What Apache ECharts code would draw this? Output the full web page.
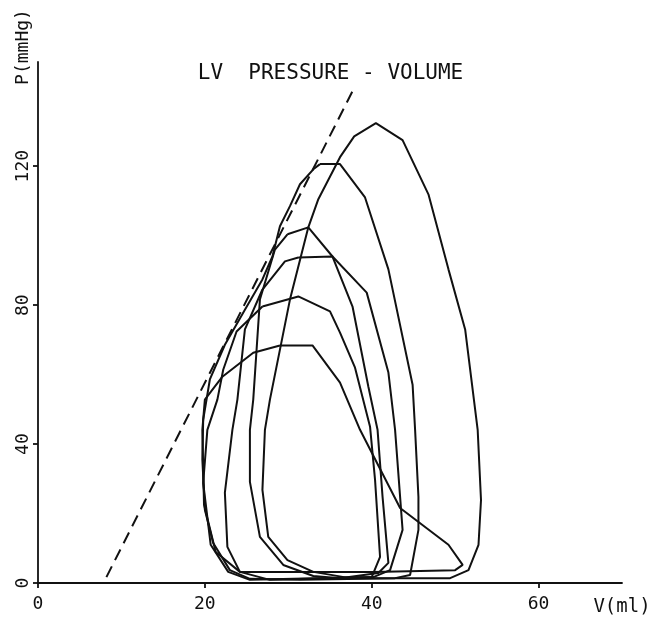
<!DOCTYPE html>
<html><head><meta charset="utf-8">
<script src="https://cdn.jsdelivr.net/npm/echarts@6/dist/echarts.min.js"></script>
<style>html,body{margin:0;padding:0;background:#fff}#c{width:661px;height:624px}</style>
</head><body><div id="c"></div>
<script>
// Tick values
const volumeTicks = [0, 20, 40, 60];
const pressureTicks = [0, 40, 80, 120];

// End-systolic pressure-volume relation (dashed line), [V (ml), P (mmHg)]
const espvrLine = [[8.2, 1.7], [37.7, 141.6]];

// Pressure-volume loops, [V (ml), P (mmHg)]
const loopA = [[33.0,3.2],[29.9,6.6],[27.6,13.3],[26.9,26.8],[27.2,44.1],[27.8,52.8],[30.2,81.6],[32.4,102.4],[33.6,110.5],[36.2,122.6],[37.9,128.6],[40.5,132.4],[43.7,127.5],[46.8,111.9],[49.2,90.3],[51.2,73.0],[52.7,44.1],[53.1,23.9],[52.8,11.0],[51.6,3.7],[49.4,1.4],[37.4,1.4],[33.0,3.2]];
const loopB = [[33.8,120.6],[33.0,119.1],[31.4,114.8],[30.2,108.5],[29.0,102.7],[28.1,94.0],[26.9,87.4],[24.8,78.7],[22.4,68.6],[20.6,58.6],[19.8,47.0],[19.7,35.5],[20.0,21.1],[21.0,11.5],[23.0,3.7],[25.4,1.2],[31.4,0.9],[42.8,1.4],[44.6,2.3],[45.6,15.3],[45.6,24.8],[45.2,44.1],[44.9,57.1],[42.0,90.3],[39.2,111.0],[36.2,120.6],[33.8,120.6]];
const loopC = [[29.9,100.4],[32.4,102.4],[35.3,94.0],[37.7,79.6],[39.6,56.5],[40.7,44.1],[41.3,24.8],[42.0,5.8],[40.8,2.9],[36.2,1.4],[33.0,2.0],[29.4,5.2],[26.6,13.3],[25.4,29.1],[25.4,44.1],[25.8,52.8],[26.6,81.6],[28.4,96.0],[29.9,100.4]];
const loopD = [[31.2,93.7],[35.3,94.0],[39.4,83.6],[42.0,60.6],[42.8,44.1],[43.7,15.3],[42.2,3.7],[40.2,1.7],[27.8,0.9],[24.2,3.2],[22.7,10.4],[22.4,26.0],[23.3,44.1],[23.9,52.8],[24.8,73.0],[26.9,84.5],[29.6,92.6],[31.2,93.7]];
const loopE = [[26.9,79.6],[31.2,82.5],[35.0,78.2],[36.2,72.1],[38.0,62.0],[39.8,45.0],[40.4,29.7],[41.0,7.5],[40.0,1.7],[25.4,0.9],[22.8,3.2],[20.7,11.0],[19.8,28.8],[20.3,44.1],[21.5,52.8],[22.2,61.4],[23.8,72.4],[26.9,79.6]];
const loopF = [[29.0,68.4],[32.9,68.4],[36.2,57.7],[38.6,44.1],[43.4,21.6],[49.2,11.0],[50.9,5.2],[50.0,3.7],[40.2,3.2],[24.2,3.2],[21.3,8.9],[19.9,22.5],[19.7,44.1],[20.0,52.8],[22.1,59.4],[25.8,66.3],[29.0,68.4]];

const loops = [loopA, loopB, loopC, loopD, loopE, loopF];
const ink = '#111111';
const font = '"DejaVu Sans Mono", monospace';

const chart = echarts.init(document.getElementById('c'), null, {renderer: 'canvas'});
chart.setOption({
  animation: false,
  backgroundColor: '#ffffff',
  title: {
    text: 'LV  PRESSURE - VOLUME',
    left: 'center',
    top: 58,
    textStyle: {fontFamily: font, fontSize: 21, fontWeight: 'normal', color: ink}
  },
  grid: {left: 38, right: 39, top: 62, bottom: 41},
  xAxis: {
    type: 'value', min: 0, max: 70, interval: 20,
    axisLine: {lineStyle: {color: ink, width: 1.8}},
    axisTick: {show: true, length: 5, customValues: volumeTicks, lineStyle: {color: ink, width: 1.8}},
    axisLabel: {customValues: volumeTicks, margin: 12, fontFamily: font, fontSize: 18, color: ink},
    splitLine: {show: false}
  },
  yAxis: {
    type: 'value', min: 0, max: 150, interval: 40,
    axisLine: {show: true, lineStyle: {color: ink, width: 1.8}},
    axisTick: {show: true, length: 5, customValues: pressureTicks, lineStyle: {color: ink, width: 1.8}},
    axisLabel: {customValues: pressureTicks, rotate: 90, margin: 6, fontFamily: font, fontSize: 18, color: ink},
    splitLine: {show: false}
  },
  graphic: [
    {type: 'text', x: 23, y: 47, rotation: Math.PI / 2,
     style: {text: 'P(mmHg)', align: 'center', verticalAlign: 'middle', font: '18px "DejaVu Sans Mono", monospace', fill: ink}},
    {type: 'text', x: 622, y: 607,
     style: {text: 'V(ml)', align: 'center', verticalAlign: 'middle', font: '19px "DejaVu Sans Mono", monospace', fill: ink}}
  ],
  series: loops.map(d => ({
    type: 'line', data: d, showSymbol: false, smooth: false,
    lineStyle: {color: ink, width: 2}
  })).concat([{
    type: 'line', data: espvrLine, showSymbol: false,
    lineStyle: {color: ink, width: 2, type: [12, 7]}
  }])
});
</script>
</body></html>
